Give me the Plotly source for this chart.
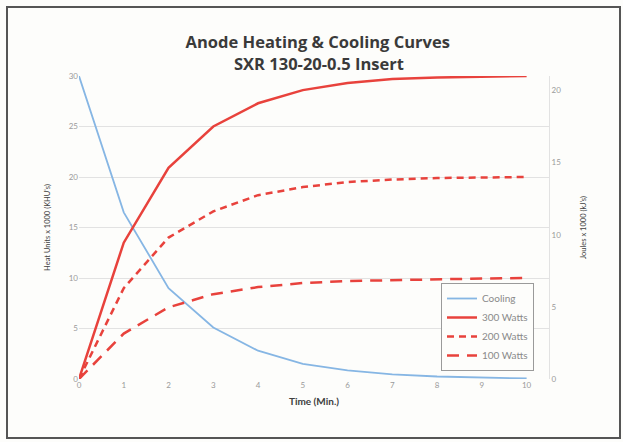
import plotly.graph_objects as go

time_min = [0, 1, 2, 3, 4, 5, 6, 7, 8, 9, 10]
cooling = [30, 16.5, 9.0, 5.1, 2.8, 1.5, 0.85, 0.45, 0.25, 0.12, 0.05]
w300 = [0, 13.5, 20.9, 25.0, 27.3, 28.6, 29.3, 29.7, 29.85, 29.95, 30]
w200 = [0, 9.0, 14.0, 16.6, 18.2, 19.0, 19.5, 19.75, 19.9, 19.95, 20]
w100 = [0, 4.5, 7.1, 8.4, 9.1, 9.5, 9.7, 9.8, 9.9, 9.95, 10]

left_ticks = [0, 5, 10, 15, 20, 25, 30]
right_ticks = [0, 5, 10, 15, 20]

RED = "#e8423c"
BLUE = "#86b6e4"
FONT = "Lato"
TITLE_FONT = dict(family="Open Sans", size=16.5, color="#3a3a3a", weight="bold")

fig = go.Figure()
fig.add_trace(go.Scatter(x=time_min, y=cooling, name="Cooling", mode="lines",
                         line=dict(color=BLUE, width=1.8)))
fig.add_trace(go.Scatter(x=time_min, y=w300, name="300 Watts", mode="lines",
                         line=dict(color=RED, width=2.5)))
fig.add_trace(go.Scatter(x=time_min, y=w200, name="200 Watts", mode="lines",
                         line=dict(color=RED, width=2.5, dash="7px,5px")))
fig.add_trace(go.Scatter(x=time_min, y=w100, name="100 Watts", mode="lines",
                         line=dict(color=RED, width=2.5, dash="12px,8px")))
# invisible trace to anchor the secondary (Joules) axis
fig.add_trace(go.Scatter(x=time_min[:1], y=right_ticks[:1], yaxis="y2", mode="lines",
                         showlegend=False, hoverinfo="skip", opacity=0))

tickfont = dict(family=FONT, size=8, color="#9a9a9a")
titlefont = dict(family=FONT, size=7.5, color="#404040")

fig.update_layout(
    width=623, height=442,
    paper_bgcolor="#fdfdfb", plot_bgcolor="#fdfdfb",
    margin=dict(l=79, r=74, t=76, b=63, autoexpand=False),
    title=dict(text="Anode Heating & Cooling Curves",
               x=0.51, xanchor="center", yref="container", y=1 - 42/442, yanchor="middle",
               font=TITLE_FONT),
    xaxis=dict(range=[0, 10.5], tickvals=time_min, showgrid=False, zeroline=False,
               showline=False, tickfont=tickfont, ticks="", automargin=False,
               title=dict(text="Time (Min.)",
                          font=dict(family=FONT, size=10, color="#404040", weight="bold"),
                          standoff=8)),
    yaxis=dict(range=[0, 30], tickvals=left_ticks, showgrid=True, gridcolor="#e2e2e2",
               gridwidth=1, zeroline=False, showline=False, tickfont=tickfont, ticks="",
               automargin=False,
               title=dict(text="Heat Units x 1000 (KHU's)", font=titlefont, standoff=17)),
    yaxis2=dict(range=[0, 21], tickvals=right_ticks, overlaying="y", side="right",
                showgrid=False, zeroline=False, showline=True, linecolor="#e2e2e2",
                tickfont=tickfont, ticks="", automargin=False,
                title=dict(text="Joules x 1000 (kJ's)", font=titlefont, standoff=20)),
    legend=dict(x=(441-79)/470, y=(379-283)/303, xanchor="left", yanchor="top",
                bgcolor="#fdfdfb", bordercolor="#9a9a9a", borderwidth=1,
                font=dict(family=FONT, size=10, color="#8a8a8a")),
    showlegend=True,
)
fig.add_annotation(text="SXR 130-20-0.5 Insert", xref="paper", yref="paper",
                   x=0.51, y=(379-64)/303, xanchor="center", yanchor="middle",
                   showarrow=False, font=TITLE_FONT)
fig.add_shape(type="rect", xref="paper", yref="paper",
              x0=-72/470, x1=(620-79)/470, y0=-(438-379)/303, y1=(379-7)/303,
              line=dict(color="#555555", width=2), fillcolor="rgba(0,0,0,0)", layer="below")

fig.write_html("out.html", config={"displayModeBar": False},
               post_script="document.body.style.margin='0';document.body.style.padding='0';")
